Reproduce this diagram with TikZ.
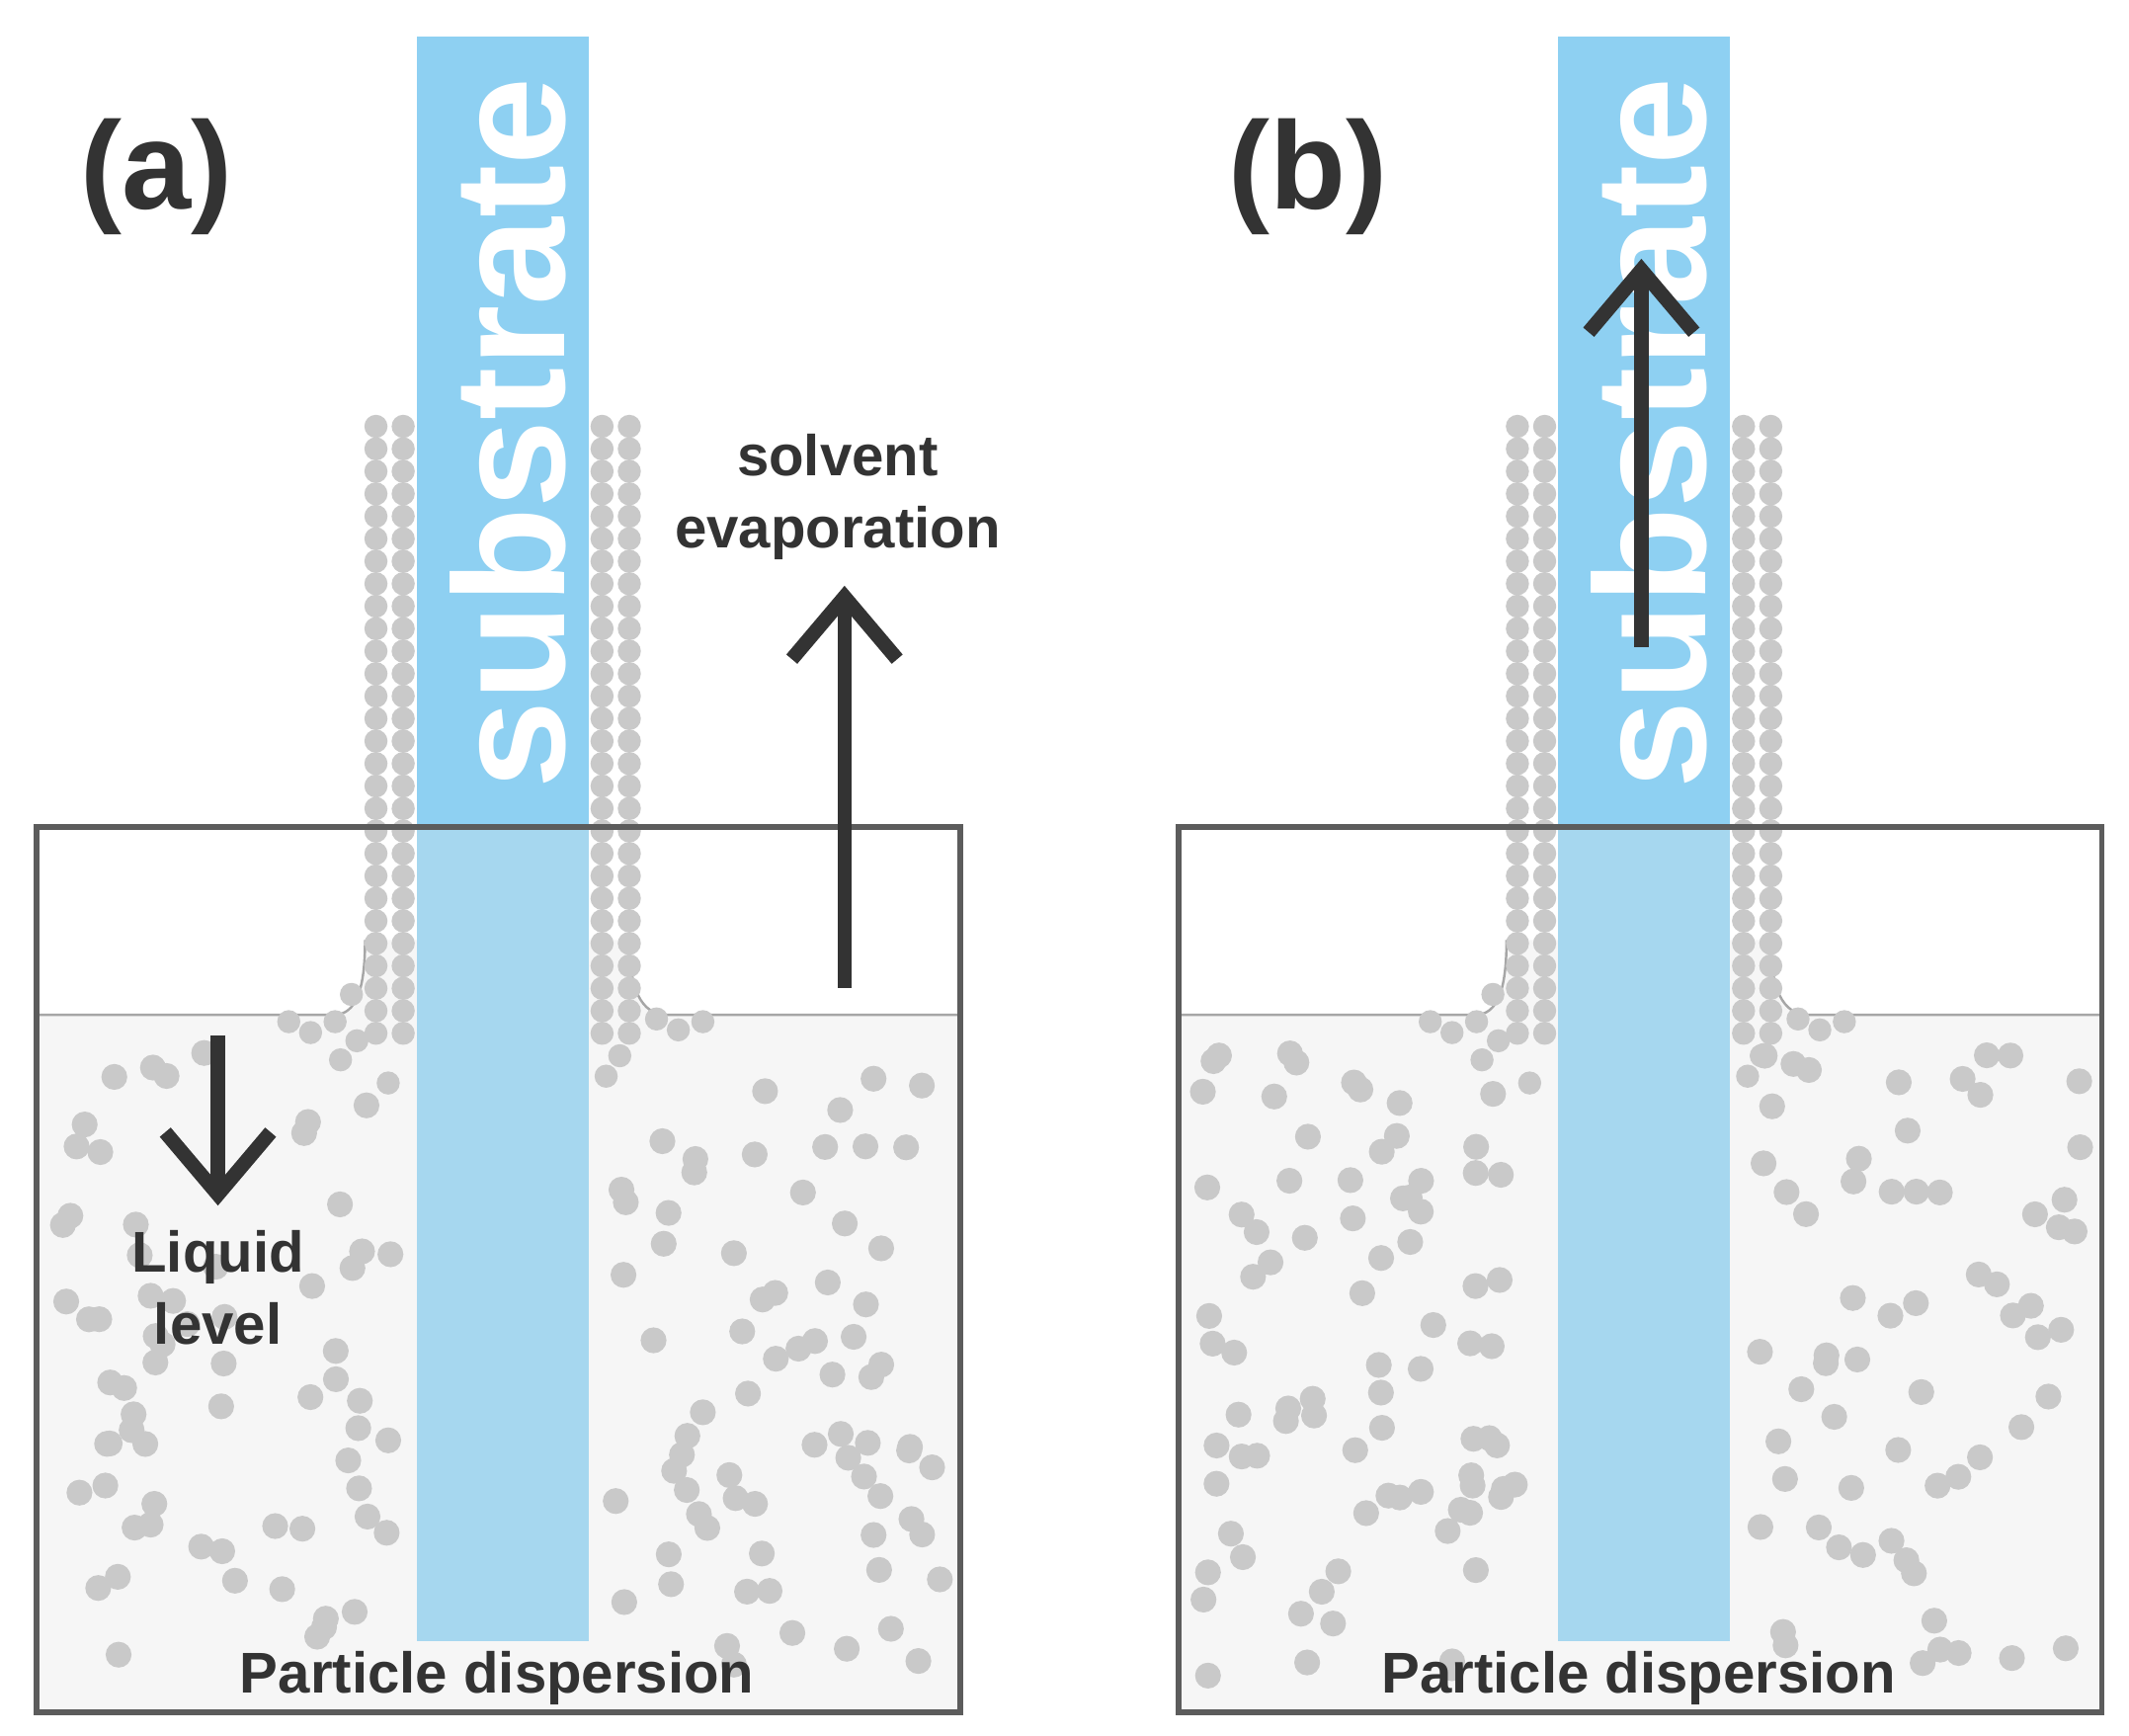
\documentclass[tikz,border=0pt]{standalone}
\usepackage{fontspec}
\setmainfont{Liberation Sans}
\usetikzlibrary{arrows.meta}
\definecolor{subA}{HTML}{8ED0F2}
\definecolor{subB}{HTML}{A6D7EF}
\definecolor{part}{HTML}{C9C9C9}
\definecolor{liq}{HTML}{F6F6F6}
\definecolor{ink}{HTML}{333333}
\tikzset{
 pt/.style={fill=part},
 bigarrow/.style={draw=ink,line width=3pt,-{Straight Barb[length=13pt,width=22pt,line width=3pt]}},
 lbl/.style={font=\bfseries\fontsize{12}{15}\selectfont,text=ink,align=center},
 tag/.style={font=\bfseries\fontsize{26}{28}\selectfont,text=ink},
}
\newcommand\mypanel[1]{%
 \fill[liq] (27,1257) -- (27,745) -- (245,745) .. controls (262,745) and (268,725) .. (268,690) -- (462,690) .. controls (462,725) and (470,745) .. (490,745) -- (705,745) -- (705,1257) -- cycle;
 \draw[gray!70,line width=0.5pt] (27,745) -- (245,745) .. controls (262,745) and (268,725) .. (268,690);
 \draw[gray!70,line width=0.5pt] (462,690) .. controls (462,725) and (470,745) .. (490,745) -- (705,745);
 \foreach \cx in {276,296,442,462}{
   \foreach \k in {0,...,27}{\fill[pt] (\cx,{313+\k*16.5}) circle (8.5);}}
 \foreach \cx/\cy in {258/730,246/750,228/758,212/750,482/748,498/756,516/750,262/764,250/778,455/775,445/790,285/795}{\fill[pt] (\cx,\cy) circle (8.5);}
 \pgfmathsetseed{#1}
 \foreach \i in {1,...,190}{
   \pgfmathsetmacro\px{45+650*rnd}
   \pgfmathsetmacro\py{772+460*rnd}
   \ifdim\px pt<288pt \fill[pt] (\px,\py) circle (9.5);\else
   \ifdim\px pt>452pt \fill[pt] (\px,\py) circle (9.5);\fi\fi}
 \fill[subA] (306,27) rectangle (432,745);
 \fill[subB] (306,607) rectangle (432,1205);
 \node[rotate=90,text=white,font=\bfseries\fontsize{33}{33}\selectfont] (sub#1) at (373,318) {substrate};
 \draw[ink!80,line width=1.2pt] (27,607) rectangle (705,1257);
 \node[lbl] (pd#1) at (365,1232) {Particle dispersion};
}
\begin{document}
\begin{tikzpicture}[x=0.01cm,y=-0.01cm]
\useasboundingbox (0,0) rectangle (1563,1274);
\fill[white] (0,0) rectangle (1563,1274);
\mypanel{3}
\node[tag] (ta) at (115,130) {(a)};
\coordinate (e1) at (620,725); \coordinate (e2) at (620,430);
\draw[bigarrow] (e1) -- (e2);
\node[lbl] (se) at (615,365) {solvent\\evaporation};
\coordinate (l1) at (160,760); \coordinate (l2) at (160,885);
\draw[bigarrow] (l1) -- (l2);
\node[lbl] (ll) at (160,945) {Liquid\\level};
\begin{scope}[shift={(838,0)}]
\mypanel{11}
\node[tag] (tb) at (122,130) {(b)};
\coordinate (b1) at (367,475); \coordinate (b2) at (367,190);
\draw[bigarrow] (b1) -- (b2);
\end{scope}
\end{tikzpicture}
\end{document}
